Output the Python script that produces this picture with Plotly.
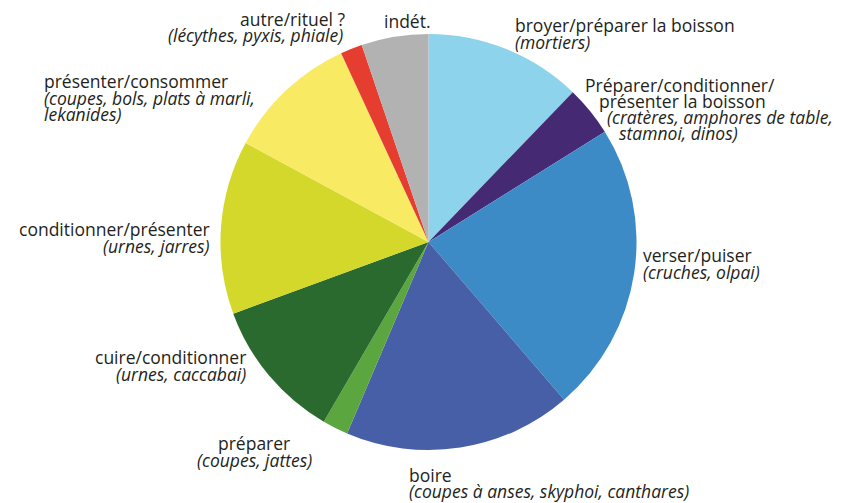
import plotly.graph_objects as go

W, H = 853, 503

categories = [
    "broyer/préparer la boisson", "Préparer/conditionner/présenter la boisson",
    "verser/puiser", "boire", "préparer", "cuire/conditionner",
    "conditionner/présenter", "présenter/consommer", "autre/rituel ?", "indét.",
]
values = [12.2, 3.9, 22.6, 17.7, 2.0, 11.0, 13.5, 10.2, 1.7, 5.2]
colors = ["#8DD3EC", "#452A73", "#3C8AC6", "#475FA7", "#5BA63F",
          "#2A6A2E", "#D3D82B", "#F8EA63", "#E53E30", "#B2B2B2"]

# label lines: (text, italic)
label_lines = [
    [("broyer/préparer la boisson", False), ("(mortiers)", True)],
    [("Préparer/conditionner/", False), ("présenter la boisson", False),
     ("(cratères, amphores de table,", True), ("stamnoi, dinos)", True)],
    [("verser/puiser", False), ("(cruches, olpai)", True)],
    [("boire", False), ("(coupes à anses, skyphoi, canthares)", True)],
    [("préparer", False), ("(coupes, jattes)", True)],
    [("cuire/conditionner", False), ("(urnes, caccabai)", True)],
    [("conditionner/présenter", False), ("(urnes, jarres)", True)],
    [("présenter/consommer", False), ("(coupes, bols, plats à marli,", True), ("lekanides)", True)],
    [("autre/rituel ?", False), ("(lécythes, pyxis, phiale)", True)],
    [("indét.", False)],
]

# placement of each line (pixel x, pixel y-centre, anchor)
label_pos = [
    [(513, 25, "left"), (513, 42, "left")],
    [(583, 85, "left"), (597, 101, "left"), (605, 117, "left"), (617, 133, "left")],
    [(641, 255, "left"), (641, 272, "left")],
    [(407, 475, "left"), (407, 491, "left")],
    [(254, 443, "center"), (254, 460, "center")],
    [(248, 357, "right"), (248, 374, "right")],
    [(212, 229, "right"), (212, 246, "right")],
    [(42, 81, "left"), (42, 98, "left"), (42, 114, "left")],
    [(347, 19, "right"), (345, 35, "right")],
    [(382, 21, "left")],
]

cx, cy, r = 428.5, 242, 208

fig = go.Figure(go.Pie(
    labels=categories, values=values, sort=False, direction="clockwise",
    rotation=0, marker=dict(colors=colors, line=dict(width=0)),
    textinfo="none", hoverinfo="label+percent", showlegend=False,
    domain=dict(x=[(cx - r) / W, (cx + r) / W],
                y=[(H - cy - r) / H, (H - cy + r) / H]),
))

FONT = "Open Sans"
annotations = []
for lines, poss in zip(label_lines, label_pos):
    for (txt, it), (px, py, anc) in zip(lines, poss):
        annotations.append(dict(
            text=f"<i>{txt}</i>" if it else txt,
            x=px / W, y=1 - py / H, xref="paper", yref="paper",
            xanchor=anc, yanchor="middle", showarrow=False,
            font=dict(family=FONT, size=17.5, color="#231F20"),
        ))

fig.update_layout(
    width=W, height=H, margin=dict(l=0, r=0, t=0, b=0),
    paper_bgcolor="white", plot_bgcolor="white",
    annotations=annotations,
)
fig.write_html("out.html", config={"displayModeBar": False},
               post_script="document.body.style.margin='0';")
